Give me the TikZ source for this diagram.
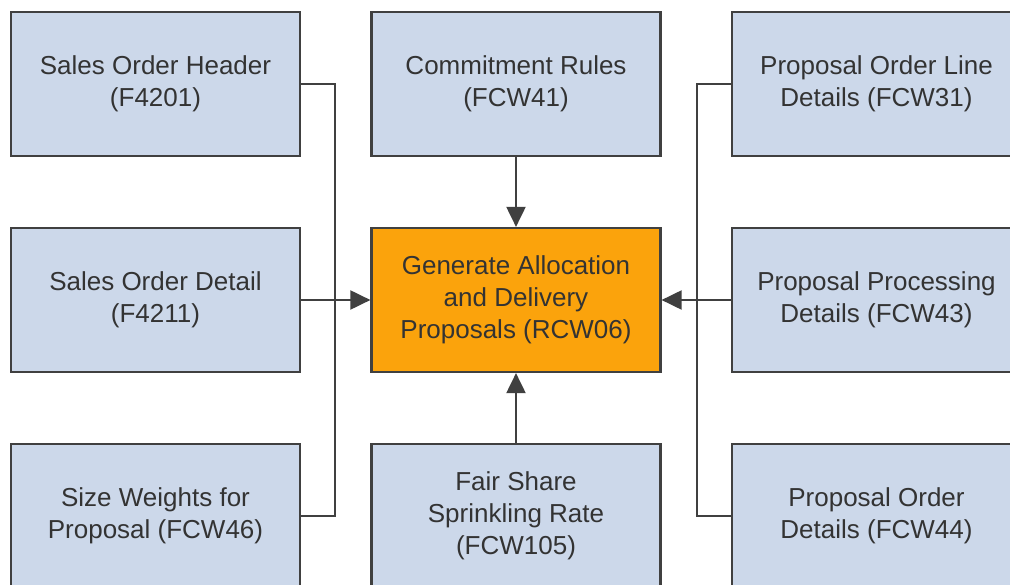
\documentclass[tikz,border=0pt]{standalone}
\usepackage{fontspec}
\setmainfont{Liberation Sans}
\usetikzlibrary{arrows.meta}
\definecolor{boxblue}{HTML}{CCD8EA}
\definecolor{boxorange}{HTML}{FBA30C}
\definecolor{edge}{HTML}{404040}
\definecolor{txt}{HTML}{333333}
\tikzset{
  tbl/.style={draw=edge, line width=2.2pt, fill=boxblue, minimum width=289pt, minimum height=144pt,
    inner sep=0pt, align=center, text=txt, font=\fontsize{26}{32}\selectfont},
  proc/.style={tbl, fill=boxorange},
  link/.style={draw=edge, line width=2pt},
  flow/.style={link, -{Triangle[length=20pt,width=19pt]}}
}
\begin{document}
\begin{tikzpicture}[x=1pt,y=-1pt]
\useasboundingbox (0,0) rectangle (1010,585);
\clip (0,0) rectangle (1010,585);
\fill[white] (0,0) rectangle (1010,585);
\node[tbl] (tl) at (155.5,84) {Sales Order Header\\(F4201)};
\node[tbl] (ml) at (155.5,300) {Sales Order Detail\\(F4211)};
\node[tbl] (bl) at (155.5,516) {Size Weights for\\Proposal (FCW46)};
\node[tbl] (tc) at (516,84) {Commitment Rules\\(FCW41)};
\node[proc] (c) at (516,300) {Generate Allocation\\and Delivery\\Proposals (RCW06)};
\node[tbl] (bc) at (516,516) {Fair Share\\Sprinkling Rate\\(FCW105)};
\node[tbl] (tr) at (876.5,84) {Proposal Order Line\\Details (FCW31)};
\node[tbl] (mr) at (876.5,300) {Proposal Processing\\Details (FCW43)};
\node[tbl] (br) at (876.5,516) {Proposal Order\\Details (FCW44)};
\coordinate (jl) at (335,300);
\coordinate (jr) at (697,300);
\draw[link] (tl.east) -| (jl);
\draw[link] (bl.east) -| (jl);
\draw[flow] (ml.east) -- (c.west);
\draw[link] (tr.west) -| (jr);
\draw[link] (br.west) -| (jr);
\draw[flow] (mr.west) -- (c.east);
\draw[flow] (tc.south) -- (c.north);
\draw[flow] (bc.north) -- (c.south);
\end{tikzpicture}
\end{document}
